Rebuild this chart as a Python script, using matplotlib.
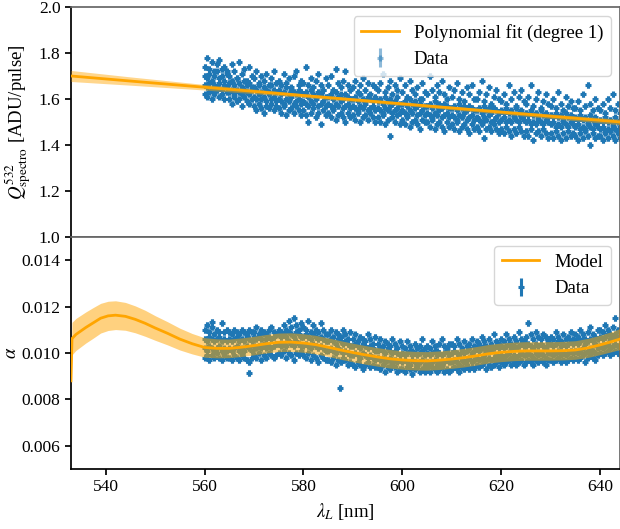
import numpy as np
import matplotlib
matplotlib.use("Agg")
import matplotlib.pyplot as plt

plt.rcParams["font.family"] = "serif"
plt.rcParams["font.serif"] = ["Liberation Serif", "DejaVu Serif"]
plt.rcParams["mathtext.fontset"] = "stix"
plt.rcParams["font.size"] = 13.5

# laser scan grid, 170 wavelengths [nm]
wl = np.linspace(560.0, 644.5, 170)

# Q_spectro^532 [ADU/pulse], four points per wavelength
q_a = [1.74, 1.78, 1.73, 1.76, 1.72, 1.75, 1.77, 1.73, 1.74, 1.72,
       1.70, 1.75, 1.72, 1.69, 1.76, 1.71, 1.73, 1.68, 1.74, 1.70,
       1.69, 1.72, 1.67, 1.70, 1.68, 1.71, 1.66, 1.69, 1.72, 1.67,
       1.68, 1.66, 1.71, 1.67, 1.69, 1.65, 1.70, 1.72, 1.66, 1.68,
       1.67, 1.74, 1.66, 1.69, 1.65, 1.68, 1.71, 1.66, 1.64, 1.69,
       1.66, 1.70, 1.64, 1.73, 1.67, 1.65, 1.68, 1.72, 1.66, 1.64,
       1.65, 1.68, 1.63, 1.66, 1.69, 1.64, 1.67, 1.62, 1.66, 1.65,
       1.64, 1.67, 1.71, 1.63, 1.65, 1.68, 1.62, 1.66, 1.64, 1.69,
       1.63, 1.66, 1.61, 1.68, 1.64, 1.62, 1.65, 1.60, 1.67, 1.63,
       1.62, 1.70, 1.64, 1.61, 1.66, 1.63, 1.68, 1.62, 1.60, 1.65,
       1.61, 1.64, 1.67, 1.60, 1.63, 1.59, 1.65, 1.62, 1.66, 1.60,
       1.60, 1.63, 1.68, 1.59, 1.62, 1.65, 1.58, 1.61, 1.64, 1.60,
       1.59, 1.62, 1.58, 1.66, 1.60, 1.63, 1.57, 1.61, 1.64, 1.59,
       1.58, 1.61, 1.66, 1.57, 1.60, 1.63, 1.56, 1.59, 1.62, 1.58,
       1.57, 1.60, 1.56, 1.63, 1.58, 1.55, 1.61, 1.57, 1.59, 1.56,
       1.56, 1.59, 1.55, 1.62, 1.57, 1.66, 1.58, 1.55, 1.60, 1.56,
       1.55, 1.58, 1.54, 1.60, 1.56, 1.62, 1.55, 1.58, 1.54, 1.57]
q_b = [1.70, 1.69, 1.71, 1.68, 1.70, 1.72, 1.69, 1.70, 1.68, 1.71,
       1.67, 1.68, 1.66, 1.69, 1.67, 1.65, 1.68, 1.66, 1.67, 1.65,
       1.65, 1.64, 1.66, 1.63, 1.65, 1.64, 1.63, 1.66, 1.64, 1.63,
       1.64, 1.62, 1.63, 1.65, 1.62, 1.64, 1.63, 1.62, 1.64, 1.63,
       1.62, 1.63, 1.61, 1.64, 1.62, 1.61, 1.63, 1.62, 1.64, 1.61,
       1.61, 1.62, 1.60, 1.63, 1.61, 1.62, 1.60, 1.62, 1.61, 1.60,
       1.60, 1.61, 1.59, 1.62, 1.60, 1.59, 1.61, 1.60, 1.59, 1.61,
       1.59, 1.60, 1.58, 1.61, 1.59, 1.60, 1.58, 1.59, 1.61, 1.58,
       1.58, 1.59, 1.57, 1.60, 1.58, 1.59, 1.57, 1.58, 1.60, 1.57,
       1.57, 1.58, 1.56, 1.59, 1.57, 1.58, 1.56, 1.58, 1.57, 1.56,
       1.56, 1.57, 1.55, 1.58, 1.56, 1.57, 1.55, 1.57, 1.56, 1.55,
       1.55, 1.56, 1.54, 1.57, 1.55, 1.56, 1.54, 1.56, 1.55, 1.54,
       1.55, 1.54, 1.56, 1.54, 1.55, 1.53, 1.56, 1.54, 1.55, 1.53,
       1.54, 1.53, 1.55, 1.53, 1.54, 1.52, 1.55, 1.53, 1.54, 1.52,
       1.53, 1.52, 1.54, 1.52, 1.53, 1.51, 1.54, 1.52, 1.53, 1.51,
       1.52, 1.51, 1.53, 1.51, 1.52, 1.50, 1.53, 1.51, 1.52, 1.50,
       1.51, 1.50, 1.52, 1.50, 1.51, 1.49, 1.52, 1.50, 1.51, 1.49]
q_c = [1.66, 1.65, 1.67, 1.64, 1.66, 1.65, 1.67, 1.64, 1.66, 1.65,
       1.63, 1.64, 1.62, 1.64, 1.63, 1.62, 1.64, 1.63, 1.62, 1.64,
       1.61, 1.60, 1.62, 1.60, 1.61, 1.59, 1.62, 1.60, 1.61, 1.59,
       1.60, 1.59, 1.58, 1.60, 1.59, 1.61, 1.58, 1.59, 1.60, 1.58,
       1.59, 1.58, 1.57, 1.59, 1.58, 1.60, 1.57, 1.58, 1.59, 1.57,
       1.58, 1.57, 1.56, 1.58, 1.57, 1.59, 1.56, 1.57, 1.58, 1.56,
       1.57, 1.56, 1.55, 1.57, 1.56, 1.58, 1.55, 1.56, 1.57, 1.55,
       1.56, 1.55, 1.54, 1.56, 1.55, 1.57, 1.54, 1.55, 1.56, 1.54,
       1.55, 1.54, 1.53, 1.55, 1.54, 1.56, 1.53, 1.54, 1.55, 1.53,
       1.54, 1.53, 1.52, 1.54, 1.53, 1.55, 1.52, 1.53, 1.54, 1.52,
       1.53, 1.52, 1.51, 1.53, 1.52, 1.54, 1.51, 1.52, 1.53, 1.51,
       1.52, 1.51, 1.50, 1.52, 1.51, 1.53, 1.50, 1.51, 1.52, 1.50,
       1.51, 1.52, 1.50, 1.51, 1.50, 1.52, 1.51, 1.50, 1.52, 1.51,
       1.50, 1.51, 1.49, 1.50, 1.49, 1.51, 1.50, 1.49, 1.51, 1.50,
       1.49, 1.50, 1.48, 1.49, 1.48, 1.50, 1.49, 1.48, 1.50, 1.49,
       1.48, 1.49, 1.47, 1.48, 1.47, 1.49, 1.48, 1.47, 1.49, 1.48,
       1.47, 1.48, 1.46, 1.47, 1.46, 1.48, 1.47, 1.46, 1.48, 1.47]
q_d = [1.62, 1.61, 1.63, 1.60, 1.62, 1.64, 1.61, 1.62, 1.60, 1.63,
       1.60, 1.58, 1.61, 1.59, 1.60, 1.57, 1.61, 1.59, 1.58, 1.60,
       1.57, 1.55, 1.58, 1.56, 1.54, 1.57, 1.56, 1.58, 1.55, 1.57,
       1.56, 1.54, 1.57, 1.53, 1.55, 1.56, 1.54, 1.57, 1.55, 1.53,
       1.55, 1.53, 1.50, 1.54, 1.56, 1.52, 1.54, 1.49, 1.55, 1.53,
       1.54, 1.52, 1.55, 1.51, 1.53, 1.54, 1.52, 1.50, 1.54, 1.52,
       1.53, 1.51, 1.54, 1.50, 1.52, 1.53, 1.51, 1.54, 1.52, 1.50,
       1.52, 1.50, 1.53, 1.49, 1.51, 1.44, 1.52, 1.50, 1.53, 1.49,
       1.51, 1.49, 1.52, 1.48, 1.50, 1.51, 1.49, 1.47, 1.51, 1.50,
       1.50, 1.48, 1.51, 1.47, 1.49, 1.50, 1.48, 1.46, 1.50, 1.48,
       1.49, 1.47, 1.50, 1.46, 1.48, 1.49, 1.47, 1.45, 1.49, 1.47,
       1.48, 1.46, 1.49, 1.43, 1.47, 1.48, 1.46, 1.49, 1.47, 1.45,
       1.47, 1.45, 1.48, 1.46, 1.44, 1.47, 1.45, 1.48, 1.46, 1.44,
       1.46, 1.44, 1.47, 1.42, 1.45, 1.46, 1.44, 1.47, 1.45, 1.43,
       1.45, 1.43, 1.46, 1.44, 1.42, 1.45, 1.43, 1.46, 1.44, 1.45,
       1.44, 1.42, 1.45, 1.43, 1.46, 1.44, 1.40, 1.45, 1.43, 1.44,
       1.44, 1.42, 1.45, 1.43, 1.46, 1.44, 1.42, 1.45, 1.43, 1.44]

# alpha, in units of 1e-3, four points per wavelength
a_a = [11.0, 11.2, 10.9, 11.1, 10.8, 11.0, 10.9, 11.3, 10.9, 11.0,
       10.9, 10.8, 11.0, 10.9, 10.8, 11.0, 10.9, 10.8, 11.0, 10.9,
       10.9, 11.1, 10.8, 11.0, 10.9, 10.8, 11.0, 11.1, 10.9, 10.8,
       11.0, 10.9, 11.2, 11.0, 11.4, 11.1, 11.5, 11.2, 11.0, 11.3,
       11.1, 11.0, 11.4, 10.9, 11.2, 11.0, 10.9, 11.3, 11.0, 10.8,
       10.8, 11.0, 10.7, 10.9, 10.8, 10.7, 11.0, 10.8, 10.6, 10.9,
       10.6, 10.8, 10.5, 10.7, 10.6, 10.5, 10.8, 10.6, 10.4, 10.7,
       10.4, 10.6, 10.3, 10.5, 10.4, 10.3, 10.6, 10.4, 10.2, 10.5,
       10.3, 10.2, 10.5, 10.3, 10.1, 10.4, 10.2, 10.3, 10.6, 10.2,
       10.3, 10.2, 10.5, 10.3, 10.1, 10.4, 10.6, 10.3, 10.2, 10.4,
       10.4, 10.3, 10.6, 10.4, 10.2, 10.5, 10.3, 10.4, 10.6, 10.3,
       10.5, 10.4, 10.7, 10.5, 10.3, 10.6, 10.4, 10.8, 10.5, 10.4,
       10.6, 10.5, 10.8, 10.6, 10.4, 10.7, 10.5, 10.9, 10.6, 10.5,
       10.7, 11.3, 10.8, 10.6, 10.9, 10.7, 10.6, 10.8, 10.7, 10.5,
       10.7, 10.6, 10.9, 10.7, 10.5, 10.8, 10.6, 10.7, 10.9, 10.6,
       10.8, 10.7, 11.0, 10.8, 10.6, 10.9, 11.1, 10.8, 10.7, 11.0,
       11.0, 10.9, 11.2, 11.0, 10.8, 11.1, 11.5, 11.0, 10.9, 11.2]
a_b = [10.6, 10.5, 10.7, 10.6, 10.5, 10.6, 10.7, 10.5, 10.6, 10.5,
       10.6, 10.5, 10.6, 10.7, 10.5, 10.6, 10.5, 10.7, 10.6, 10.5,
       10.7, 10.6, 10.7, 10.6, 10.8, 10.6, 10.7, 10.6, 10.7, 10.8,
       10.8, 10.7, 10.8, 10.7, 10.9, 10.8, 10.7, 10.9, 10.8, 10.7,
       10.7, 10.8, 10.7, 10.6, 10.8, 10.7, 10.6, 10.7, 10.6, 10.5,
       10.5, 10.6, 10.5, 10.4, 10.6, 10.5, 10.4, 10.5, 10.4, 10.3,
       10.3, 10.4, 10.3, 10.2, 10.4, 10.3, 10.2, 10.3, 10.2, 10.1,
       10.1, 10.2, 10.1, 10.0, 10.2, 10.1, 10.0, 10.1, 10.0, 9.9,
       10.0, 9.9, 10.0, 10.1, 9.9, 10.0, 9.9, 10.0, 10.1, 9.9,
       10.0, 9.9, 10.0, 10.1, 9.9, 10.0, 9.9, 10.0, 10.1, 9.9,
       10.0, 10.1, 10.0, 9.9, 10.1, 10.0, 10.1, 10.2, 10.0, 10.1,
       10.2, 10.1, 10.2, 10.3, 10.1, 10.2, 10.1, 10.2, 10.3, 10.2,
       10.3, 10.2, 10.3, 10.4, 10.2, 10.3, 10.2, 10.3, 10.4, 10.3,
       10.3, 10.4, 10.3, 10.2, 10.4, 10.3, 10.4, 10.3, 10.2, 10.4,
       10.4, 10.3, 10.4, 10.5, 10.3, 10.4, 10.3, 10.4, 10.5, 10.4,
       10.5, 10.4, 10.5, 10.6, 10.4, 10.5, 10.6, 10.5, 10.4, 10.6,
       10.7, 10.6, 10.7, 10.8, 10.6, 10.7, 10.8, 10.7, 10.6, 10.8]
a_c = [10.2, 10.1, 10.3, 10.2, 10.1, 10.2, 10.3, 10.1, 10.2, 10.1,
       10.2, 10.1, 10.2, 10.3, 10.1, 10.2, 10.1, 10.3, 10.2, 10.1,
       10.3, 10.2, 10.3, 10.2, 10.4, 10.2, 10.3, 10.2, 10.3, 10.4,
       10.4, 10.3, 10.4, 10.3, 10.5, 10.4, 10.3, 10.5, 10.4, 10.3,
       10.3, 10.4, 10.3, 10.2, 10.4, 10.3, 10.2, 10.3, 10.2, 10.1,
       10.1, 10.2, 10.1, 10.0, 10.2, 10.1, 10.0, 10.1, 10.0, 9.9,
       9.9, 10.0, 9.9, 9.8, 10.0, 9.9, 9.8, 9.9, 9.8, 9.7,
       9.8, 9.7, 9.8, 9.6, 9.7, 9.8, 9.6, 9.7, 9.6, 9.7,
       9.6, 9.7, 9.6, 9.5, 9.7, 9.6, 9.5, 9.6, 9.7, 9.5,
       9.6, 9.5, 9.6, 9.7, 9.5, 9.6, 9.5, 9.6, 9.7, 9.6,
       9.6, 9.7, 9.6, 9.5, 9.7, 9.6, 9.7, 9.8, 9.6, 9.7,
       9.8, 9.7, 9.8, 9.9, 9.7, 9.8, 9.7, 9.8, 9.9, 9.8,
       9.9, 9.8, 9.9, 10.0, 9.8, 9.9, 9.8, 9.9, 10.0, 9.9,
       9.9, 10.0, 9.9, 9.8, 10.0, 9.9, 10.0, 9.9, 9.8, 10.0,
       10.0, 9.9, 10.0, 10.1, 9.9, 10.0, 9.9, 10.0, 10.1, 10.0,
       10.1, 10.0, 10.1, 10.2, 10.0, 10.1, 10.2, 10.1, 10.0, 10.2,
       10.3, 10.2, 10.3, 10.4, 10.2, 10.3, 10.4, 10.3, 10.2, 10.4]
a_d = [9.8, 9.9, 9.7, 9.9, 9.8, 10.0, 9.8, 9.7, 9.9, 9.8,
       9.8, 9.7, 9.9, 9.8, 9.7, 9.9, 9.8, 9.7, 9.6, 9.8,
       9.9, 9.8, 10.0, 9.7, 9.9, 9.8, 10.0, 9.9, 9.8, 9.9,
       10.0, 9.9, 10.1, 9.8, 10.0, 9.9, 9.7, 10.0, 9.9, 10.1,
       9.9, 9.8, 10.0, 9.7, 9.9, 9.8, 9.6, 9.9, 9.8, 9.7,
       9.7, 9.6, 9.8, 9.5, 9.7, 9.6, 9.8, 9.7, 9.5, 9.6,
       9.5, 9.4, 9.6, 9.5, 9.3, 9.5, 9.6, 9.4, 9.5, 9.4,
       9.4, 9.3, 9.5, 9.2, 9.4, 9.3, 9.5, 9.4, 9.2, 9.3,
       9.3, 9.2, 9.4, 9.3, 9.1, 9.3, 9.4, 9.2, 9.3, 9.2,
       9.3, 9.2, 9.4, 9.3, 9.2, 9.3, 9.4, 9.2, 9.3, 9.2,
       9.3, 9.4, 9.3, 9.2, 9.4, 9.3, 9.5, 9.3, 9.4, 9.3,
       9.5, 9.4, 9.5, 9.6, 9.3, 9.5, 9.4, 9.5, 9.6, 9.4,
       9.6, 9.5, 9.6, 9.7, 9.5, 9.6, 9.5, 9.6, 9.7, 9.5,
       9.6, 9.7, 9.6, 9.5, 9.7, 9.6, 9.7, 9.6, 9.5, 9.7,
       9.7, 9.6, 9.7, 9.8, 9.6, 9.7, 9.6, 9.7, 9.8, 9.7,
       9.8, 9.7, 9.8, 9.9, 9.6, 9.8, 9.9, 9.8, 9.7, 9.9,
       10.0, 9.9, 10.0, 10.1, 9.9, 10.0, 10.1, 10.0, 9.9, 10.1]
a_out_x = [569.0, 587.3, 561.6]
a_out_y = [9.14, 8.49, 11.33]

# degree-1 polynomial fit and its band
fit_x = [533.0, 545.0, 560.0, 580.0, 600.0, 620.0, 644.0]
fit_y = [1.700, 1.678, 1.651, 1.615, 1.579, 1.543, 1.500]
fit_hw = [0.024, 0.018, 0.012, 0.008, 0.007, 0.008, 0.012]

# alpha model (1e-3) and its band half-width
mod_x = [533.0, 533.2, 534, 535, 536, 537.5, 539, 540.5, 542, 544, 546, 548, 550,
         552.5, 555, 557.5, 560, 562.5, 565, 567.5, 570, 572.5, 575, 577.5, 580,
         582.5, 585, 587.5, 590, 592.5, 595, 597.5, 600, 602.5, 605, 607.5, 610,
         612.5, 615, 617.5, 620, 622.5, 625, 627.5, 630, 632.5, 635, 637.5, 640,
         642, 644]
mod_y = [8.80, 10.62, 10.80, 10.95, 11.10, 11.30, 11.50, 11.60, 11.63, 11.58, 11.45,
         11.28, 11.08, 10.85, 10.60, 10.40, 10.24, 10.20, 10.20, 10.25, 10.32, 10.40,
         10.46, 10.47, 10.43, 10.36, 10.25, 10.13, 10.02, 9.92, 9.83, 9.75, 9.70,
         9.67, 9.66, 9.69, 9.74, 9.80, 9.88, 9.97, 10.03, 10.07, 10.09, 10.09, 10.09,
         10.10, 10.13, 10.22, 10.35, 10.47, 10.60]
mod_hw = [0.10, 0.70, 0.69, 0.68, 0.67, 0.66, 0.64, 0.63, 0.62, 0.60, 0.58, 0.56,
          0.53, 0.50, 0.47, 0.44, 0.42, 0.41, 0.40, 0.40, 0.40, 0.40, 0.40, 0.40,
          0.40, 0.40, 0.40, 0.40, 0.40, 0.40, 0.40, 0.40, 0.40, 0.40, 0.40, 0.40,
          0.40, 0.40, 0.40, 0.40, 0.40, 0.40, 0.40, 0.40, 0.40, 0.40, 0.40, 0.41,
          0.42, 0.43, 0.45]

BLUE = "#1f77b4"
ORANGE = "orange"
GREY = "#666666"

fig = plt.figure(figsize=(6.2, 5.29), dpi=100)
ax1 = fig.add_axes([0.1145, 0.552, 0.8855, 0.4348])
ax2 = fig.add_axes([0.1145, 0.1134, 0.8855, 0.4386], sharex=ax1)

pt = dict(fmt="+", color=BLUE, ms=4.2, mew=2.2, elinewidth=2.2, capsize=0)

# top panel
q_x = np.concatenate([wl, wl, wl, wl])
q_y = np.concatenate([q_a, q_b, q_c, q_d])
ax1.errorbar(q_x, q_y, yerr=0.012, zorder=2, **pt)
ax1.errorbar([np.nan], [np.nan], yerr=[0.1], alpha=0.5, label="Data", **pt)
lo = np.array(fit_y) - np.array(fit_hw)
hi = np.array(fit_y) + np.array(fit_hw)
ax1.fill_between(fit_x, lo, hi, color=ORANGE, alpha=0.45, lw=0, zorder=3)
ax1.plot(fit_x, fit_y, color=ORANGE, lw=2, zorder=4, label="Polynomial fit (degree 1)")
ax1.set_ylim(1.0, 2.0)
ax1.set_yticks([1.0, 1.2, 1.4, 1.6, 1.8, 2.0])
ax1.set_ylabel(r"$Q^{532}_{\mathrm{spectro}}$ [ADU/pulse]")
ax1.yaxis.set_label_coords(-0.069, 0.5)
ax1.legend(loc="upper right", fancybox=True, framealpha=0.8, edgecolor="#cccccc")

# bottom panel
a_x = np.concatenate([wl, wl, wl, wl, a_out_x])
a_y = np.concatenate([a_a, a_b, a_c, a_d, a_out_y]) * 1e-3
ax2.errorbar(a_x, a_y, yerr=0.00012, zorder=2, label="Data", **pt)
m = np.array(mod_y) * 1e-3
hw = np.array(mod_hw) * 1e-3
ax2.fill_between(mod_x, m - hw, m + hw, color=ORANGE, alpha=0.5, lw=0, zorder=3)
ax2.plot(mod_x, m, color=ORANGE, lw=2, zorder=4, label="Model")
ax2.set_ylim(0.005, 0.015)
ax2.set_yticks([0.006, 0.008, 0.010, 0.012, 0.014])
ax2.set_ylabel(r"$\alpha$")
ax2.yaxis.set_label_coords(-0.093, 0.5)
ax2.set_xlabel(r"$\lambda_L$ [nm]")
ax2.set_xlim(533.0, 644.0)
ax2.set_xticks([540, 560, 580, 600, 620, 640])
ax2.legend(loc="upper right", fancybox=True, framealpha=0.8, edgecolor="#cccccc")

for ax in (ax1, ax2):
    ax.tick_params(direction="out", length=4, width=1.25, top=False, right=False,
                   labelsize=12.5)
    for side in ("top", "right", "bottom"):
        ax.spines[side].set_color(GREY)
        ax.spines[side].set_linewidth(1.25)
    ax.spines["left"].set_linewidth(1.25)
ax2.spines["bottom"].set_color("black")
ax1.tick_params(bottom=False, labelbottom=False)

fig.savefig("out.png", dpi=100)
